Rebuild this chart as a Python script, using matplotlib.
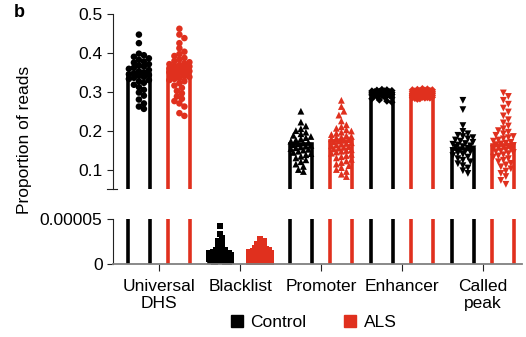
import numpy as np
import matplotlib
matplotlib.use('Agg')
import matplotlib.pyplot as plt
from matplotlib.lines import Line2D

plt.rcParams['font.family'] = ['Liberation Sans', 'DejaVu Sans']
plt.rcParams['font.size'] = 12.5

# categories and bar heights
categories = ['Universal\nDHS', 'Blacklist', 'Promoter', 'Enhancer', 'Called\npeak']
ctrl_bars = [0.345, 0.000008, 0.166, 0.295, 0.154]
als_bars = [0.355, 0.000008, 0.174, 0.292, 0.162]

# per-sample values
udhs_ctrl = [0.447, 0.425, 0.398, 0.394, 0.39, 0.386, 0.382, 0.378, 0.375, 0.371, 0.368, 0.365,
             0.362, 0.359, 0.356, 0.353, 0.35, 0.348, 0.345, 0.343, 0.341, 0.338, 0.336, 0.333,
             0.33, 0.327, 0.323, 0.318, 0.312, 0.305, 0.298, 0.29, 0.28, 0.27, 0.262, 0.256]
udhs_als = [0.462, 0.447, 0.438, 0.425, 0.412, 0.403, 0.397, 0.392, 0.387, 0.383, 0.379, 0.376,
            0.373, 0.371, 0.369, 0.367, 0.365, 0.363, 0.361, 0.36, 0.358, 0.357, 0.356, 0.355,
            0.354, 0.353, 0.352, 0.35, 0.348, 0.346, 0.344, 0.342, 0.34, 0.338, 0.335, 0.333,
            0.33, 0.327, 0.322, 0.316, 0.31, 0.302, 0.296, 0.288, 0.282, 0.276, 0.27, 0.262,
            0.245, 0.238]
# blacklist in units of 1e-5
bl_ctrl = [4.2, 3.3, 2.9, 2.6, 2.3, 2.0, 1.8, 1.6, 1.5, 1.4, 1.3, 1.25, 1.2, 1.1, 1.05, 1.0,
           0.95, 0.9, 0.85, 0.8, 0.75, 0.7, 0.65, 0.6, 0.55, 0.5, 0.45, 0.4, 0.4, 0.35, 0.3,
           0.3, 0.3, 0.25, 0.25, 0.25]
bl_als = [2.8, 2.55, 2.35, 2.2, 2.05, 1.9, 1.8, 1.7, 1.6, 1.5, 1.45, 1.4, 1.3, 1.25, 1.2, 1.15,
          1.1, 1.05, 1.0, 0.95, 0.9, 0.85, 0.8, 0.75, 0.7, 0.65, 0.6, 0.55, 0.5, 0.5, 0.45,
          0.45, 0.4, 0.4, 0.35, 0.35, 0.3, 0.3, 0.3, 0.3, 0.28, 0.28, 0.26, 0.26, 0.25, 0.25,
          0.25, 0.25, 0.25, 0.25]
prom_ctrl = [0.25, 0.222, 0.212, 0.205, 0.2, 0.196, 0.192, 0.188, 0.185, 0.182, 0.179, 0.176,
             0.173, 0.17, 0.168, 0.166, 0.164, 0.162, 0.16, 0.158, 0.156, 0.154, 0.152, 0.15,
             0.147, 0.144, 0.141, 0.138, 0.134, 0.13, 0.125, 0.12, 0.114, 0.108, 0.1, 0.095]
prom_als = [0.278, 0.262, 0.25, 0.24, 0.225, 0.215, 0.21, 0.206, 0.202, 0.199, 0.196, 0.193,
            0.19, 0.187, 0.185, 0.183, 0.181, 0.179, 0.177, 0.175, 0.173, 0.171, 0.169, 0.167,
            0.165, 0.163, 0.161, 0.159, 0.157, 0.155, 0.153, 0.151, 0.149, 0.147, 0.145, 0.142,
            0.139, 0.136, 0.133, 0.13, 0.126, 0.122, 0.118, 0.114, 0.11, 0.105, 0.1, 0.095,
            0.088, 0.082]
enh_ctrl = [0.306, 0.305, 0.304, 0.303, 0.302, 0.302, 0.301, 0.3, 0.3, 0.299, 0.299, 0.298,
            0.298, 0.297, 0.297, 0.296, 0.296, 0.295, 0.295, 0.294, 0.294, 0.293, 0.293, 0.292,
            0.292, 0.291, 0.29, 0.29, 0.289, 0.288, 0.287, 0.285, 0.282, 0.279, 0.276, 0.273]
enh_als = [0.308, 0.307, 0.306, 0.305, 0.305, 0.304, 0.303, 0.303, 0.302, 0.302, 0.301, 0.301,
           0.3, 0.3, 0.3, 0.299, 0.299, 0.298, 0.298, 0.297, 0.297, 0.296, 0.296, 0.295,
           0.295, 0.294, 0.294, 0.293, 0.293, 0.292, 0.292, 0.291, 0.291, 0.29, 0.29, 0.289,
           0.289, 0.288, 0.288, 0.287, 0.287, 0.286, 0.286, 0.285, 0.285, 0.284, 0.284, 0.283,
           0.282, 0.281]
peak_ctrl = [0.278, 0.254, 0.213, 0.198, 0.192, 0.188, 0.185, 0.182, 0.179, 0.176, 0.173, 0.17,
             0.167, 0.165, 0.163, 0.161, 0.159, 0.157, 0.155, 0.153, 0.151, 0.149, 0.147, 0.145,
             0.142, 0.139, 0.136, 0.132, 0.128, 0.124, 0.12, 0.115, 0.11, 0.104, 0.097, 0.09]
peak_als = [0.297, 0.288, 0.278, 0.268, 0.258, 0.248, 0.238, 0.228, 0.22, 0.212, 0.205, 0.2,
            0.196, 0.192, 0.188, 0.185, 0.182, 0.179, 0.176, 0.173, 0.17, 0.168, 0.166, 0.164,
            0.162, 0.16, 0.158, 0.156, 0.154, 0.152, 0.15, 0.148, 0.146, 0.144, 0.141, 0.138,
            0.135, 0.132, 0.128, 0.124, 0.12, 0.116, 0.112, 0.107, 0.102, 0.096, 0.09, 0.082,
            0.072, 0.062]

ctrl_pts = [udhs_ctrl, np.array(bl_ctrl) * 1e-5, prom_ctrl, enh_ctrl, peak_ctrl]
als_pts = [udhs_als, np.array(bl_als) * 1e-5, prom_als, enh_als, peak_als]
markers = ['o', 's', '^', 'D', 'v']
msizes = [22, 20, 24, 14, 24]

BLACK = '#000000'
RED = '#E0301E'
x = np.arange(len(categories))
off = 0.25
width = 0.27
base = -0.1  # bars start below both axes so no bottom edge shows

fig = plt.figure(figsize=(5.26, 3.37), dpi=100)
ax_top = fig.add_axes([0.2148, 0.4392, 0.7776, 0.5193])
ax_bot = fig.add_axes([0.2148, 0.2166, 0.7776, 0.1335])

for ax in (ax_top, ax_bot):
    ax.bar(x - off, np.array(ctrl_bars) - base, width, bottom=base, facecolor='white',
           edgecolor=BLACK, linewidth=2.6, zorder=2)
    ax.bar(x + off, np.array(als_bars) - base, width, bottom=base, facecolor='white',
           edgecolor=RED, linewidth=2.6, zorder=2)
    ax.set_xlim(-0.57, 4.48)
    for s in ['top', 'right']:
        ax.spines[s].set_visible(False)
    ax.spines['left'].set_linewidth(0.8)
    ax.spines['left'].set_color('#222222')
    ax.tick_params(axis='y', length=4.5, width=0.8, color='#222222', pad=3)

ax_top.set_ylim(0.05, 0.5)
ax_top.set_yticks([0.1, 0.2, 0.3, 0.4, 0.5])
ax_top.set_yticklabels(['0.1', '0.2', '0.3', '0.4', '0.5'])
ax_top.spines['bottom'].set_visible(False)
ax_top.set_xticks([])
ax_top.plot([-0.015, 0.01], [0, 0], transform=ax_top.transAxes, color='#222222',
            lw=0.8, clip_on=False)

ax_bot.set_ylim(0, 0.00005)
ax_bot.set_yticks([0, 0.00005])
ax_bot.set_yticklabels(['0', '0.00005'])
ax_bot.spines['bottom'].set_color('#808080')
ax_bot.spines['bottom'].set_linewidth(1.3)
ax_bot.spines['bottom'].set_zorder(5)
ax_bot.set_xticks(x)
ax_bot.set_xticklabels(categories, linespacing=1.15)
ax_bot.tick_params(axis='x', length=5, width=0.8, color='#222222', pad=6)


def swarm(ax, center, values, diam, maxoff):
    # simple beeswarm: spread points sideways in pixel space
    vals = np.asarray(values, dtype=float)
    pts = ax.transData.transform(np.column_stack([np.full(len(vals), center), vals]))
    x0 = pts[0, 0]
    ys = pts[:, 1]
    xs = np.zeros(len(vals))
    placed = []
    cands = [0.0]
    step = diam * 0.5
    k = 1
    while k * step <= maxoff:
        cands += [k * step, -k * step]
        k += 1
    for i in np.argsort(-ys):
        best, bestd = 0.0, -1
        for c in cands:
            if placed:
                d = min(np.hypot(c - px, ys[i] - py) for px, py in placed)
            else:
                d = 1e9
            if d >= diam:
                best = c
                break
            if d > bestd:
                best, bestd = c, d
        xs[i] = best
        placed.append((best, ys[i]))
    back = ax.transData.inverted().transform(np.column_stack([x0 + xs, ys]))
    return back[:, 0], vals


for i in range(len(categories)):
    ax = ax_bot if categories[i] == 'Blacklist' else ax_top
    diam = 3.6 if ax is ax_bot else 5.0
    for pts, dx, col in [(ctrl_pts[i], -off, BLACK), (als_pts[i], off, RED)]:
        px, py = swarm(ax, x[i] + dx, pts, diam, 11.0)
        ax.scatter(px, py, marker=markers[i], s=msizes[i], color=col, edgecolor='none',
                   zorder=3, clip_on=False)

fig.text(0.046, 1 - 140 / 337, 'Proportion of reads', rotation=90, ha='center', va='center')
fig.text(0.027, 0.962, 'b', fontweight='bold', fontsize=13, ha='left', va='center')

handles = [Line2D([], [], marker='s', ls='none', color=BLACK, markersize=8),
           Line2D([], [], marker='s', ls='none', color=RED, markersize=8)]
fig.legend(handles, ['Control', 'ALS'], loc='center', bbox_to_anchor=(0.594, 0.042),
           ncol=2, frameon=False, handletextpad=0.3, columnspacing=2.0, handlelength=1.0)

fig.savefig('out.png', dpi=100)
